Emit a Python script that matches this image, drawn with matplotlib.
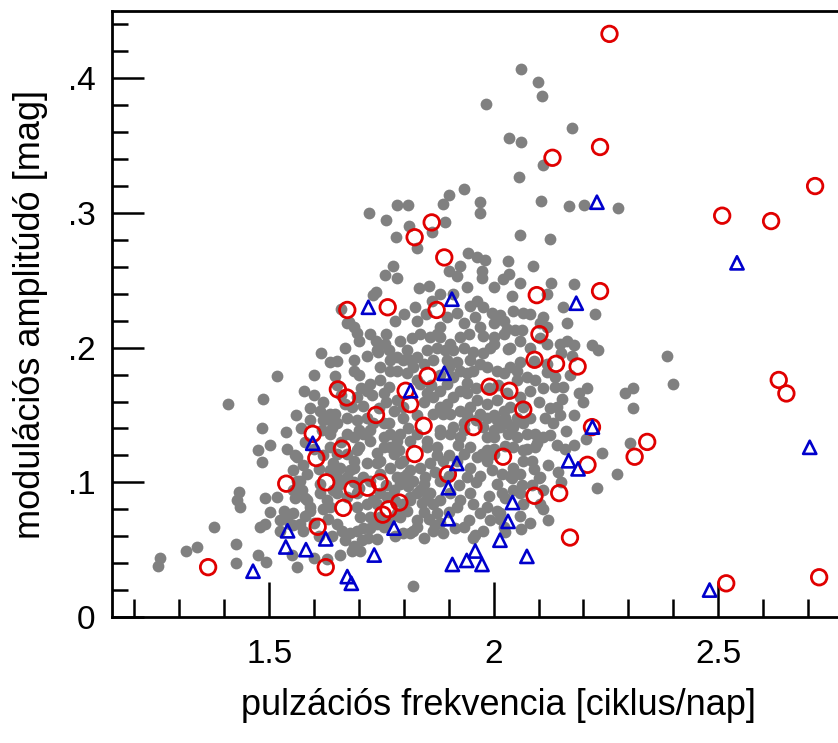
import matplotlib
matplotlib.use('Agg')
import matplotlib.pyplot as plt
from matplotlib.ticker import MultipleLocator

plt.rcParams['font.family'] = ['Liberation Sans', 'DejaVu Sans']

# all stars: pulsation frequency [c/d], modulation amplitude [mag]
gray_pts = [
    # upper sparse part
    (2.061, 0.407), (2.098, 0.397), (2.108, 0.387), (1.983, 0.381), (2.174, 0.363),
    (2.035, 0.356), (2.062, 0.353), (2.110, 0.336), (2.057, 0.327), (2.106, 0.309),
    (2.167, 0.305), (2.202, 0.306), (2.278, 0.304), (1.970, 0.308), (1.970, 0.300),
    (2.059, 0.284), (2.126, 0.281), (1.981, 0.265), (2.033, 0.264), (2.087, 0.261),
    (2.035, 0.255), (2.020, 0.251), (2.059, 0.248), (2.127, 0.248), (2.180, 0.247),
    (2.118, 0.240), (1.974, 0.257), (1.974, 0.252),
    (1.935, 0.318), (1.901, 0.313), (1.888, 0.307), (1.784, 0.306), (1.810, 0.306),
    (1.723, 0.300), (1.760, 0.295), (1.782, 0.282), (1.812, 0.290), (1.829, 0.274),
    (1.862, 0.286), (1.892, 0.293), (1.943, 0.270), (1.963, 0.267), (1.924, 0.261),
    (1.901, 0.257), (1.918, 0.253), (1.775, 0.261), (1.757, 0.254), (1.784, 0.252),
    (1.834, 0.244), (1.856, 0.246), (1.738, 0.241), (1.732, 0.239),
    (1.880, 0.240), (1.910, 0.240), (1.940, 0.245), (2.000, 0.245), (2.040, 0.238),
    # 0.2 - 0.24
    (1.660, 0.229), (1.678, 0.219), (1.690, 0.215), (1.695, 0.211), (1.725, 0.210),
    (1.738, 0.205), (1.825, 0.230), (1.829, 0.220), (1.818, 0.207), (1.862, 0.235),
    (1.896, 0.223), (1.881, 0.215), (1.918, 0.226), (1.963, 0.235), (1.977, 0.230),
    (1.948, 0.231), (1.996, 0.226), (2.014, 0.224), (1.959, 0.223), (1.970, 0.215),
    (2.000, 0.218), (2.022, 0.220), (1.933, 0.218), (1.944, 0.210), (1.925, 0.208),
    (1.977, 0.209), (2.000, 0.208), (2.022, 0.210), (1.859, 0.208), (1.881, 0.208),
    (1.903, 0.203), (2.029, 0.214), (1.836, 0.210), (1.873, 0.210), (2.059, 0.205),
    (2.033, 0.199), (2.104, 0.207), (2.118, 0.203), (2.148, 0.203), (2.118, 0.215),
    (2.163, 0.218), (2.163, 0.205), (2.104, 0.218), (2.154, 0.230), (2.226, 0.225),
    (2.044, 0.227), (2.066, 0.226), (2.081, 0.225), (2.111, 0.223), (2.048, 0.213),
    (2.063, 0.213), (2.037, 0.200), (2.000, 0.203), (2.178, 0.202), (2.219, 0.202),
    (2.233, 0.198), (1.992, 0.200), (1.673, 0.218), (1.758, 0.203), (1.792, 0.205),
    (1.760, 0.210), (1.780, 0.220), (1.800, 0.225), (1.850, 0.225), (1.700, 0.205),
    (1.670, 0.200), (2.080, 0.200),
    # 0.15 - 0.2
    (1.615, 0.196), (1.636, 0.189), (1.517, 0.179), (1.487, 0.162), (1.578, 0.168),
    (1.408, 0.158), (1.688, 0.191), (1.718, 0.194), (1.740, 0.198), (1.769, 0.191),
    (1.814, 0.191), (1.743, 0.197), (1.766, 0.198), (1.784, 0.193), (1.799, 0.191),
    (1.688, 0.183), (1.647, 0.179), (1.725, 0.173), (1.718, 0.168), (1.747, 0.176),
    (1.766, 0.171), (1.755, 0.166), (1.695, 0.163), (1.710, 0.157), (1.684, 0.156),
    (1.614, 0.153), (1.647, 0.151), (1.636, 0.151), (1.777, 0.153), (1.784, 0.161),
    (1.799, 0.156), (1.784, 0.183), (1.807, 0.181), (1.821, 0.186), (1.829, 0.193),
    (1.829, 0.176), (1.769, 0.183), (1.747, 0.186), (1.807, 0.198),
    (1.851, 0.198), (1.873, 0.200), (1.892, 0.198), (1.910, 0.198), (1.933, 0.200),
    (1.955, 0.197), (1.977, 0.196), (1.948, 0.191), (1.918, 0.189), (1.896, 0.191),
    (1.866, 0.191), (1.844, 0.188), (1.836, 0.173), (1.851, 0.166), (1.866, 0.163),
    (1.881, 0.168), (1.896, 0.173), (1.910, 0.178), (1.925, 0.183), (1.940, 0.181),
    (1.955, 0.183), (1.970, 0.188), (1.985, 0.186), (2.007, 0.183), (2.022, 0.181),
    (2.037, 0.186), (2.052, 0.183), (2.059, 0.189), (2.052, 0.176), (2.074, 0.178),
    (2.066, 0.156), (2.022, 0.153), (2.007, 0.161), (1.985, 0.158), (1.963, 0.161),
    (1.940, 0.166), (1.925, 0.168), (1.910, 0.163), (1.896, 0.158), (1.881, 0.156),
    (1.866, 0.151), (1.903, 0.151), (1.925, 0.153), (1.948, 0.156), (1.970, 0.151),
    (2.141, 0.156), (2.155, 0.171), (2.174, 0.194), (2.150, 0.196), (2.118, 0.188),
    (2.118, 0.182), (2.137, 0.178), (2.137, 0.171), (2.152, 0.162), (2.189, 0.166),
    (2.208, 0.170), (2.293, 0.166), (2.311, 0.170), (2.310, 0.155), (2.386, 0.194),
    (2.399, 0.173), (2.092, 0.176), (2.081, 0.168), (2.059, 0.163), (2.037, 0.156),
    (2.126, 0.155), (2.148, 0.150),
    (1.760, 0.160), (1.745, 0.155), (1.730, 0.165), (1.705, 0.170), (1.700, 0.180),
    (1.660, 0.165), (1.670, 0.158), (1.650, 0.172), (1.620, 0.160), (1.600, 0.165),
    (1.590, 0.155), (1.560, 0.150), (1.600, 0.180), (1.650, 0.190), (1.830, 0.150),
    (1.845, 0.160), (1.860, 0.172), (1.880, 0.180), (1.900, 0.186), (1.940, 0.174),
    (1.960, 0.170), (1.990, 0.170), (2.010, 0.172), (2.030, 0.166), (2.090, 0.190),
    (2.100, 0.160), (2.110, 0.170), (2.170, 0.180), (2.180, 0.150), (2.200, 0.160),
    # 0.12 - 0.15
    (1.629, 0.147), (1.651, 0.144), (1.673, 0.148), (1.695, 0.146), (1.718, 0.148),
    (1.699, 0.139), (1.673, 0.136), (1.725, 0.139), (1.755, 0.144), (1.766, 0.144),
    (1.769, 0.136), (1.792, 0.136), (1.617, 0.139), (1.591, 0.146), (1.621, 0.146),
    (1.636, 0.136), (1.688, 0.134), (1.710, 0.136), (1.732, 0.144), (1.725, 0.131),
    (1.755, 0.134), (1.769, 0.126), (1.784, 0.131), (1.799, 0.148), (1.814, 0.131),
    (1.829, 0.136), (1.873, 0.126), (1.851, 0.131), (1.881, 0.136), (1.903, 0.136),
    (1.925, 0.134), (1.888, 0.151), (1.933, 0.144), (1.948, 0.126), (1.933, 0.121),
    (1.881, 0.139), (1.910, 0.141), (1.933, 0.139), (1.977, 0.141), (2.000, 0.139),
    (1.985, 0.148), (2.007, 0.146), (2.029, 0.144), (2.052, 0.148), (2.133, 0.144),
    (2.115, 0.148), (2.081, 0.148), (2.066, 0.144), (2.044, 0.141), (2.026, 0.148),
    (2.014, 0.141), (2.000, 0.134), (2.033, 0.136), (2.052, 0.134), (2.074, 0.136),
    (2.092, 0.136), (2.111, 0.134), (2.126, 0.135), (2.096, 0.129), (2.044, 0.126),
    (2.066, 0.124), (1.985, 0.134), (2.161, 0.138), (2.206, 0.132), (2.241, 0.122),
    (2.304, 0.129), (2.074, 0.125), (2.092, 0.126), (2.000, 0.125), (2.026, 0.127),
    (1.851, 0.126), (1.985, 0.124), (1.755, 0.126), (1.636, 0.126), (1.484, 0.140),
    (1.538, 0.137), (1.501, 0.128), (1.476, 0.124), (1.539, 0.125),
    (1.640, 0.140), (1.660, 0.130), (1.700, 0.126), (1.740, 0.122), (1.790, 0.124),
    (1.810, 0.140), (1.960, 0.146), (1.940, 0.150), (2.000, 0.150), (1.920, 0.128),
    (1.600, 0.125), (1.580, 0.130), (1.570, 0.140), (2.160, 0.125), (2.180, 0.128),
    (2.140, 0.128),
    # 0.1 - 0.12
    (1.484, 0.115), (1.558, 0.120), (1.554, 0.109), (1.576, 0.113), (1.584, 0.106),
    (1.569, 0.101), (1.562, 0.119), (1.562, 0.101), (1.621, 0.120), (1.673, 0.121),
    (1.651, 0.121), (1.643, 0.114), (1.636, 0.109), (1.680, 0.109), (1.688, 0.116),
    (1.695, 0.124), (1.658, 0.111), (1.718, 0.114), (1.710, 0.104), (1.725, 0.101),
    (1.688, 0.111), (1.673, 0.104), (1.740, 0.114), (1.747, 0.106), (1.777, 0.121),
    (1.792, 0.114), (1.769, 0.111), (1.747, 0.116), (1.807, 0.106), (1.821, 0.101),
    (1.784, 0.104), (1.799, 0.116), (1.799, 0.104), (1.814, 0.109), (1.836, 0.111),
    (1.873, 0.120), (1.859, 0.114), (1.870, 0.108), (1.847, 0.104), (1.881, 0.101),
    (1.918, 0.116), (1.888, 0.116), (1.940, 0.104), (1.948, 0.111), (1.963, 0.119),
    (1.974, 0.121), (1.970, 0.105), (2.037, 0.105), (2.059, 0.106), (2.104, 0.104),
    (2.085, 0.116), (2.066, 0.116), (2.044, 0.111), (2.000, 0.121), (2.122, 0.113),
    (2.144, 0.108), (2.102, 0.103), (2.018, 0.106), (1.996, 0.109), (1.985, 0.116),
    (2.041, 0.103), (2.274, 0.106),
    (1.900, 0.120), (1.900, 0.105), (1.760, 0.098), (1.690, 0.100), (1.650, 0.104),
    (1.610, 0.110), (2.090, 0.110), (2.150, 0.100), (1.960, 0.100),
    # 0.07 - 0.1
    (1.573, 0.094), (1.558, 0.088), (1.580, 0.088), (1.591, 0.082), (1.554, 0.094),
    (1.584, 0.087), (1.614, 0.099), (1.614, 0.092), (1.629, 0.087), (1.651, 0.092),
    (1.636, 0.082), (1.658, 0.099), (1.643, 0.094), (1.673, 0.089), (1.695, 0.092),
    (1.718, 0.084), (1.732, 0.087), (1.747, 0.092), (1.695, 0.082), (1.740, 0.084),
    (1.762, 0.089), (1.777, 0.094), (1.792, 0.099), (1.807, 0.079), (1.814, 0.087),
    (1.829, 0.092), (1.814, 0.089), (1.799, 0.084), (1.844, 0.099), (1.836, 0.094),
    (1.851, 0.088), (1.866, 0.084), (1.859, 0.092), (1.881, 0.087), (1.903, 0.092),
    (1.918, 0.082), (1.925, 0.087), (1.955, 0.084), (1.948, 0.092), (1.922, 0.098),
    (1.985, 0.082), (2.007, 0.099), (2.018, 0.092), (2.044, 0.094), (2.026, 0.088),
    (2.059, 0.092), (2.066, 0.084), (2.063, 0.098), (2.085, 0.098), (2.111, 0.094),
    (2.104, 0.084), (2.111, 0.080), (2.230, 0.096), (1.517, 0.089), (1.491, 0.088),
    (1.432, 0.093), (1.428, 0.087), (1.435, 0.082), (1.502, 0.078), (1.532, 0.079),
    (1.539, 0.075), (1.554, 0.077), (1.580, 0.075), (1.591, 0.079), (1.844, 0.078),
    (1.784, 0.077), (1.873, 0.077), (1.970, 0.077), (2.007, 0.079), (2.014, 0.077),
    (2.059, 0.075),
    (1.990, 0.090), (1.840, 0.085), (1.810, 0.097), (1.780, 0.086), (1.700, 0.096),
    (1.620, 0.080), (1.900, 0.078),
    # 0.04 - 0.07
    (1.569, 0.069), (1.576, 0.064), (1.524, 0.072), (1.547, 0.069), (1.524, 0.064),
    (1.491, 0.069), (1.480, 0.067), (1.554, 0.068), (1.376, 0.067), (1.632, 0.073),
    (1.651, 0.069), (1.662, 0.064), (1.680, 0.062), (1.695, 0.064), (1.710, 0.066),
    (1.725, 0.066), (1.669, 0.057), (1.688, 0.053), (1.706, 0.057), (1.721, 0.059),
    (1.684, 0.049), (1.703, 0.049), (1.703, 0.074), (1.725, 0.074), (1.740, 0.069),
    (1.747, 0.074), (1.755, 0.067), (1.769, 0.072), (1.792, 0.074), (1.829, 0.072),
    (1.821, 0.064), (1.799, 0.062), (1.829, 0.067), (1.814, 0.062), (1.844, 0.059),
    (1.866, 0.064), (1.888, 0.062), (1.855, 0.073), (1.870, 0.068), (1.933, 0.067),
    (1.955, 0.059), (1.944, 0.072), (1.959, 0.061), (1.914, 0.066), (1.992, 0.072),
    (1.977, 0.064), (2.014, 0.073), (2.026, 0.063), (2.022, 0.067), (2.122, 0.072),
    (1.551, 0.046), (1.562, 0.037), (1.599, 0.044), (1.629, 0.043), (1.658, 0.046),
    (1.339, 0.052), (1.314, 0.049), (1.257, 0.044), (1.253, 0.038), (1.427, 0.054),
    (1.427, 0.040), (1.475, 0.046), (1.493, 0.041), (1.821, 0.023),
    (1.880, 0.070), (2.080, 0.070), (2.060, 0.065), (1.780, 0.060), (1.740, 0.058),
    (1.640, 0.060), (1.610, 0.060), (1.600, 0.070),
]
gray_freq = [p[0] for p in gray_pts]
gray_amp = [p[1] for p in gray_pts]

# red circles
red_freq = [2.258, 2.237, 2.131, 2.716, 2.509, 2.618, 1.862, 1.824, 1.890, 2.237,
            2.096, 1.674, 1.764, 1.873, 2.102, 2.091, 2.139, 2.187, 1.991, 2.035,
            1.853, 1.804, 1.814, 1.653, 1.673, 2.066, 1.738, 1.844, 1.955, 2.219,
            2.342, 2.314, 1.597, 1.662, 1.824, 1.605, 2.021, 2.209, 1.898, 1.538,
            1.627, 1.686, 1.719, 1.746, 1.790, 1.766, 1.753, 2.146, 2.091, 1.665,
            1.608, 2.170, 1.626, 1.364, 2.518, 2.725, 2.635, 2.652]
red_amp = [0.433, 0.349, 0.341, 0.320, 0.298, 0.294, 0.293, 0.282, 0.267, 0.242,
           0.239, 0.228, 0.230, 0.228, 0.210, 0.191, 0.188, 0.186, 0.171, 0.168,
           0.179, 0.168, 0.158, 0.169, 0.163, 0.154, 0.150, 0.142, 0.141, 0.141,
           0.130, 0.119, 0.136, 0.125, 0.121, 0.118, 0.119, 0.113, 0.106, 0.099,
           0.100, 0.095, 0.096, 0.100, 0.085, 0.080, 0.076, 0.092, 0.090, 0.081,
           0.067, 0.059, 0.037, 0.037, 0.025, 0.0295, 0.176, 0.166]

# blue triangles
blue_freq = [2.230, 2.184, 1.721, 1.907, 1.890, 1.815, 2.220, 1.597, 1.918, 2.167,
             2.188, 1.899, 2.042, 2.032, 1.899, 2.014, 1.959, 1.940, 1.908, 1.974,
             2.074, 1.541, 1.537, 1.582, 1.626, 1.778, 1.734, 1.674, 1.683, 1.464,
             2.542, 2.704, 2.481]
blue_amp = [0.308, 0.233, 0.230, 0.236, 0.181, 0.168, 0.141, 0.129, 0.114, 0.116,
            0.110, 0.096, 0.085, 0.071, 0.073, 0.057, 0.049, 0.042, 0.039, 0.039,
            0.045, 0.064, 0.052, 0.050, 0.058, 0.066, 0.046, 0.030, 0.025, 0.034,
            0.263, 0.126, 0.020]

fig = plt.figure(figsize=(8.38, 7.43), dpi=100)
ax = fig.add_axes([0.1337, 0.1696, 0.8663, 0.8156])

ax.scatter(gray_freq, gray_amp, s=72, c='#808080', linewidths=0, zorder=2)
ax.scatter(red_freq, red_amp, s=125, facecolors='none', edgecolors='#e00000',
           linewidths=2.0, zorder=3)
ax.scatter(blue_freq, blue_amp, marker='^', s=90, facecolors='none',
           edgecolors='#0000cc', linewidths=1.9, zorder=4)

ax.set_xlim(1.150, 2.767)
ax.set_ylim(0, 0.45)

ax.set_xticks([1.5, 2.0, 2.5])
ax.set_xticklabels(['1.5', '2', '2.5'])
ax.xaxis.set_minor_locator(MultipleLocator(0.1))
ax.set_yticks([0, 0.1, 0.2, 0.3, 0.4])
ax.set_yticklabels(['0', '.1', '.2', '.3', '.4'])
ax.yaxis.set_minor_locator(MultipleLocator(0.02))

ax.tick_params(axis='both', which='both', direction='in', width=1.8,
               labelsize=24, top=False, right=False)
ax.tick_params(axis='x', which='major', length=25, pad=16)
ax.tick_params(axis='x', which='minor', length=13)
ax.tick_params(axis='y', which='major', length=23, pad=12)
ax.tick_params(axis='y', which='minor', length=11.5)

for side in ['left', 'bottom', 'top']:
    ax.spines[side].set_linewidth(2.0)
ax.spines['right'].set_visible(False)

ax.set_xlabel('pulzációs frekvencia [ciklus/nap]', fontsize=26)
ax.xaxis.set_label_coords(0.532, -0.118)
ax.set_ylabel('modulációs amplitúdó [mag]', fontsize=26, labelpad=14)

fig.savefig('out.png', dpi=100)
